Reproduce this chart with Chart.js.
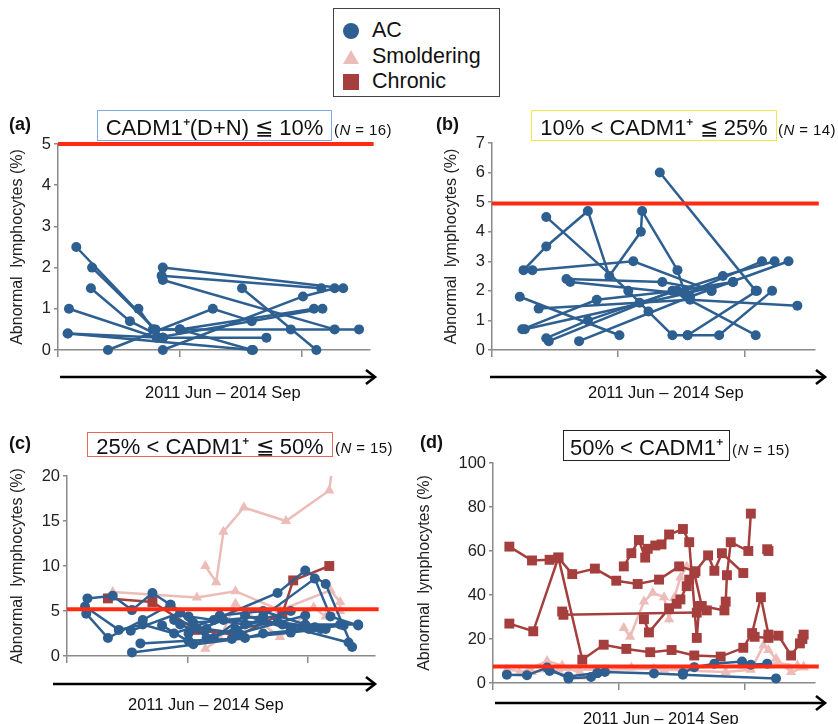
<!DOCTYPE html>
<html><head><meta charset="utf-8">
<script src="https://cdn.jsdelivr.net/npm/chart.js@4/dist/chart.umd.min.js"></script>
<style>
body{margin:0;width:838px;height:724px;position:relative;background:#fff;font-family:"Liberation Sans",Arial,Helvetica,sans-serif;overflow:hidden}
canvas{position:absolute;left:0;top:0}
.t{position:absolute;color:#111;white-space:nowrap;line-height:1}
.lt{font-weight:bold;font-size:18px}
.box{position:absolute;box-sizing:border-box;display:flex;align-items:center;justify-content:center;font-size:22px;color:#111;white-space:nowrap}
.n{font-size:15px;letter-spacing:0.4px}
.arr{font-size:16.5px}
#legend{position:absolute;left:333px;top:8px;width:167px;height:89px;box-sizing:border-box;border:1.5px solid #444;background:#fff}
#legend .row{position:absolute;left:0;font-size:21.5px;color:#111;line-height:1}
</style></head>
<body>
<svg id="arrows" width="838" height="724" style="position:absolute;left:0;top:0"></svg>
<canvas id="ca" width="838" height="724"></canvas>
<canvas id="cb" width="838" height="724"></canvas>
<canvas id="cc" width="838" height="724"></canvas>
<canvas id="cd" width="838" height="724"></canvas>

<div id="legend">
  <div style="position:absolute;left:9px;top:14px;width:16px;height:16px;border-radius:50%;background:#2d5f91"></div>
  <div class="row" style="left:38px;top:11px">AC</div>
  <svg style="position:absolute;left:8px;top:40px" width="18" height="16"><polygon points="9,1 17,15 1,15" fill="#ecbcb9"/></svg>
  <div class="row" style="left:38px;top:37px">Smoldering</div>
  <div style="position:absolute;left:9px;top:65px;width:16px;height:16px;background:#a53f3d"></div>
  <div class="row" style="left:38px;top:62px">Chronic</div>
</div>

<div class="t lt" style="left:9px;top:115px">(a)</div>
<div class="box" style="left:97px;top:110px;width:235px;height:31px;border:1.5px solid #7fa8e6">CADM1⁺(D+N) ≦ 10%</div>
<div class="t n" style="left:334px;top:122px">(<i>N</i> = 16)</div>

<div class="t lt" style="left:436px;top:115px">(b)</div>
<div class="box" style="left:531px;top:110px;width:246px;height:31px;border:1.5px solid #f2e84a">10% &lt; CADM1⁺ ≦ 25%</div>
<div class="t n" style="left:778px;top:122px">(<i>N</i> = 14)</div>

<div class="t lt" style="left:9px;top:434px">(c)</div>
<div class="box" style="left:87px;top:432px;width:246px;height:25px;border:1.5px solid #e8675c">25% &lt; CADM1⁺ ≦ 50%</div>
<div class="t n" style="left:335px;top:440px">(<i>N</i> = 15)</div>

<div class="t lt" style="left:420px;top:433px">(d)</div>
<div class="box" style="left:563px;top:430px;width:167px;height:31px;border:1.5px solid #222">50% &lt; CADM1⁺</div>
<div class="t n" style="left:732px;top:442px">(<i>N</i> = 15)</div>

<div class="t arr" style="left:145px;top:384px">2011 Jun – 2014 Sep</div>
<div class="t arr" style="left:588px;top:384px">2011 Jun – 2014 Sep</div>
<div class="t arr" style="left:128px;top:696px">2011 Jun – 2014 Sep</div>
<div class="t arr" style="left:583px;top:710px">2011 Jun – 2014 Sep</div>

<script>
// ---- data (x: position along 2011 Jun – 2014 Sep axis, tick units; y: abnormal lymphocytes %) ----
const xTicks = [0, 1, 2];
const xMax = 2.56;

const thresholdA = 5;
const thresholdB = 4.95;
const thresholdC = 5.2;
const thresholdD = 7.5;

const a_AC = [
  [[0.15,2.5],[0.86,0.3]],
  [[0.28,2.0],[0.80,0.5],[1.0,0.5]],
  [[0.27,1.5],[0.59,0.7],[0.86,0.3]],
  [[0.09,1.0],[0.81,0.3],[2.17,1.0]],
  [[0.08,0.4],[1.60,0.0]],
  [[0.08,0.4],[0.86,0.3],[1.71,0.3]],
  [[0.41,0.0],[1.27,1.0],[1.59,0.7]],
  [[0.86,2.0],[2.34,1.5]],
  [[0.85,1.8],[2.16,1.5]],
  [[0.86,1.7],[2.27,0.5]],
  [[0.86,0.0],[2.01,1.3],[2.27,1.5]],
  [[1.0,0.5],[2.10,1.0]],
  [[1.51,1.5],[2.12,0.0]],
  [[0.78,0.5],[1.91,0.5],[2.47,0.5]],
  [[0.66,1.0],[0.78,0.5]],
  [[1.0,0.5],[1.59,0.0]]
];

const b_AC = [
  [[0.25,2.7],[0.43,3.5],[0.76,4.7],[0.93,2.5],[1.18,4.0],[1.19,4.7],[1.47,2.7],[1.53,1.9]],
  [[0.43,4.5],[1.08,2.0],[1.24,1.3],[1.43,0.5],[1.55,0.5],[1.80,0.5],[2.22,2.0]],
  [[0.32,2.7],[1.12,3.0],[1.74,2.0]],
  [[0.22,1.8],[1.01,0.5]],
  [[0.37,1.4],[1.57,1.7],[2.42,1.5]],
  [[0.24,0.7],[0.83,1.7],[1.47,2.0],[1.91,2.3]],
  [[0.26,0.7],[1.53,1.9],[2.14,3.0]],
  [[0.43,0.4],[0.76,1.0],[1.17,1.6],[1.83,2.5],[2.24,3.0]],
  [[0.45,0.3],[1.43,2.0],[2.09,0.5]],
  [[0.69,0.3],[1.57,1.8],[2.35,3.0]],
  [[0.59,2.4],[1.35,2.3],[1.74,2.0]],
  [[0.62,2.3],[1.53,1.9],[1.91,2.3]],
  [[1.33,6.0],[2.09,2.0]],
  [[1.55,0.5],[2.10,2.0]]
];

const c_AC = [
  [[0.16,4.7],[0.34,2.0],[0.63,4.0],[0.86,5.7],[1.01,4.4],[1.48,3.5],[1.86,5.0]],
  [[0.17,6.4],[0.38,6.7],[0.54,5.1],[0.71,7.0],[0.86,5.7],[1.05,3.7],[1.63,4.4],[2.06,8.6],[2.19,4.4],[2.42,3.4]],
  [[0.15,5.5],[0.43,2.9],[0.63,3.5],[0.89,2.5],[1.22,4.0],[1.75,7.0],[1.98,9.5],[2.15,8.0],[2.37,1.0]],
  [[0.54,0.4],[1.48,2.0],[1.63,2.5],[2.01,3.0],[2.30,3.4]],
  [[0.61,1.4],[1.01,1.7],[1.37,1.9],[1.86,2.6],[2.11,3.0]],
  [[0.53,2.8],[0.94,4.8],[1.16,2.0],[1.63,4.0],[2.34,1.5]],
  [[0.79,3.4],[1.05,1.3],[1.40,3.0],[1.75,3.8],[2.06,3.2]],
  [[0.94,3.5],[1.22,2.0],[1.48,4.5],[1.86,3.0],[2.27,3.5]],
  [[1.01,2.5],[1.30,4.0],[1.79,3.5],[2.15,3.0]],
  [[0.89,4.0],[1.16,3.0],[1.43,2.5],[1.98,4.5]],
  [[1.27,4.5],[1.63,5.0],[1.98,3.5],[2.42,3.5]]
];
const c_SM = [
  [[1.15,10.0],[1.24,8.2],[1.30,13.8],[1.47,16.5],[1.82,15.0],[2.18,18.4],[2.21,21.5]],
  [[0.38,7.1],[1.08,6.5],[1.40,7.2],[1.77,5.1],[2.19,7.3],[2.27,6.0],[2.27,5.0]],
  [[1.15,0.8],[1.27,1.9],[1.40,5.8],[1.77,2.1],[2.05,5.4],[2.15,4.4]]
];
const c_CH = [
  [[0.34,6.4],[0.71,6.0],[1.07,2.9],[1.43,2.3],[1.79,4.7],[1.88,8.4],[2.18,10.0]]
];

const d_AC = [
  [[0.11,3.8],[0.27,3.5],[0.43,7.0],[0.60,2.0],[0.78,2.7]],
  [[0.83,4.5],[0.89,5.0],[1.28,4.3],[1.51,3.8],[2.25,2.1]],
  [[0.45,5.5],[0.60,3.0],[0.83,4.5]],
  [[1.51,4.5],[1.60,7.2],[1.76,8.8],[1.98,9.8],[2.05,8.3],[2.18,8.8]]
];
const d_SM = [
  [[0.21,4.5],[0.43,10],[0.55,8],[0.69,4.5],[0.71,3]],
  [[1.04,25],[1.09,21],[1.20,37],[1.27,41],[1.36,39],[1.40,29],[1.44,38.6],[1.49,48],[1.54,53]],
  [[1.10,7],[1.36,6],[1.85,5],[2.05,6],[2.15,17],[2.19,15],[2.25,11],[2.37,5],[2.47,7]],
  [[0.11,6],[0.31,5],[0.52,6],[0.89,6],[1.28,6.5],[1.60,7],[1.99,8],[2.27,9],[2.42,8],[2.47,7.5]]
];
const d_CH = [
  [[0.13,27],[0.32,23.5],[0.52,57],[0.71,10.6],[0.88,17.4],[1.06,15.5],[1.25,14],[1.42,15],[1.60,12.5],[1.81,12],[1.99,16],[2.06,22.7],[2.13,39],[2.19,22]],
  [[0.13,62],[0.31,55.7],[0.45,56],[0.52,57],[0.63,49.5],[0.81,52],[0.98,46.5],[1.15,45],[1.32,47],[1.48,53],[1.61,50.8],[1.71,58],[1.76,51],[1.82,59],[1.99,50]],
  [[0.55,32.5],[0.56,31],[1.62,32]],
  [[1.04,53],[1.10,59],[1.16,65],[1.21,57],[1.23,61],[1.29,62.5],[1.34,63],[1.40,67.5],[1.51,70],[1.56,64],[1.62,20.5],[1.64,35],[1.70,33]],
  [[1.20,29],[1.24,23],[1.40,34],[1.46,36],[1.49,38],[1.54,44],[1.56,47],[1.60,50],[1.66,35],[1.84,33],[1.85,37],[1.86,49],[1.89,64],[2.03,60],[2.05,77]],
  [[2.18,60.8],[2.19,60]],
  [[2.08,21],[2.19,20.5],[2.27,21.5],[2.37,12.5],[2.44,18],[2.46,20],[2.47,22]]
];

// ---- styles ----
const FONT = '"Liberation Sans", Arial, Helvetica, sans-serif';
const AC_COLOR = '#2d5f91', SM_COLOR = '#ecbcb9', CH_COLOR = '#a53f3d', RED = '#ff2a12', AXIS = '#8a8a8a';
const W = 838, H = 724, XH = 8, TITLE_OFF = 4 + 16 * 1.2 / 2;

function seriesSets(list, kind) {
  const st = {
    ac: {c: AC_COLOR, ps: 'circle', r: 5, o: 2},
    sm: {c: SM_COLOR, ps: 'triangle', r: 6, o: 4},
    ch: {c: CH_COLOR, ps: 'rect', r: 7, o: 3}
  }[kind];
  return (list || []).map(s => ({
    data: s.map(p => ({x: p[0], y: p[1]})),
    showLine: true,
    borderColor: st.c, backgroundColor: st.c,
    pointStyle: st.ps, pointRadius: st.r, pointBorderWidth: 0,
    borderWidth: 2.5, order: st.o,
    clip: {left: false, right: false, top: 0, bottom: false}
  }));
}

function panel(id, ac, sm, ch, thr, yMax, yStep, area, titleX) {
  const scaleLeft = titleX - TITLE_OFF;
  const yW = area.left - scaleLeft;
  const datasets = [
    ...seriesSets(ac, 'ac'), ...seriesSets(sm, 'sm'), ...seriesSets(ch, 'ch'),
    {data: [{x: 0, y: thr}, {x: xMax + 0.03, y: thr}], showLine: true, borderColor: RED, backgroundColor: RED,
     borderWidth: 4, pointRadius: 0, order: 0, clip: false}
  ];
  new Chart(document.getElementById(id), {
    type: 'scatter',
    data: {datasets},
    options: {
      responsive: false, animation: false, devicePixelRatio: 1,
      events: [],
      layout: {padding: {left: scaleLeft, right: W - area.right, top: area.top, bottom: H - area.bottom - XH}},
      plugins: {legend: {display: false}, tooltip: {enabled: false}},
      scales: {
        x: {
          type: 'linear', min: 0, max: xMax,
          afterBuildTicks: s => { s.ticks = xTicks.map(v => ({value: v})); },
          afterFit: s => { s.height = XH; },
          ticks: {display: false},
          grid: {display: true, drawOnChartArea: false, drawTicks: true, tickLength: 7, color: AXIS, lineWidth: 1.5},
          border: {display: true, color: AXIS, width: 1.5}
        },
        y: {
          type: 'linear', min: 0, max: yMax,
          afterFit: s => { s.width = yW; },
          ticks: {stepSize: yStep, color: '#222', padding: 3, font: {size: 16.5, family: FONT}},
          grid: {display: true, drawOnChartArea: false, drawTicks: true, tickLength: 4, color: AXIS, lineWidth: 1.5},
          border: {display: true, color: AXIS, width: 1.5},
          title: {display: true, text: 'Abnormal  lymphocytes (%)', color: '#222', font: {size: 16, family: FONT}, padding: {top: 4, bottom: 4}}
        }
      }
    }
  });
}

panel('ca', a_AC, null, null, thresholdA, 5, 1, {left: 58, right: 370, top: 144, bottom: 350}, 18);
panel('cb', b_AC, null, null, thresholdB, 7, 1, {left: 492, right: 815, top: 143, bottom: 350}, 452);
panel('cc', c_AC, c_SM, c_CH, thresholdC, 20, 5, {left: 67, right: 375, top: 476, bottom: 656}, 18);
panel('cd', d_AC, d_SM, d_CH, thresholdD, 100, 20, {left: 493, right: 815, top: 463, bottom: 683}, 425);

// ---- time arrows ----
const arrows = [[60, 375, 377], [490, 825, 377], [53, 375, 684], [495, 825, 703]];
const svg = document.getElementById('arrows');
arrows.forEach(([x1, x2, y]) => {
  svg.insertAdjacentHTML('beforeend',
    `<line x1="${x1}" y1="${y}" x2="${x2 - 1}" y2="${y}" stroke="#000" stroke-width="2.6"/>` +
    `<polyline points="${x2 - 9},${y - 7} ${x2},${y} ${x2 - 9},${y + 7}" fill="none" stroke="#000" stroke-width="2.6" stroke-linejoin="miter"/>`);
});
</script>
</body></html>
